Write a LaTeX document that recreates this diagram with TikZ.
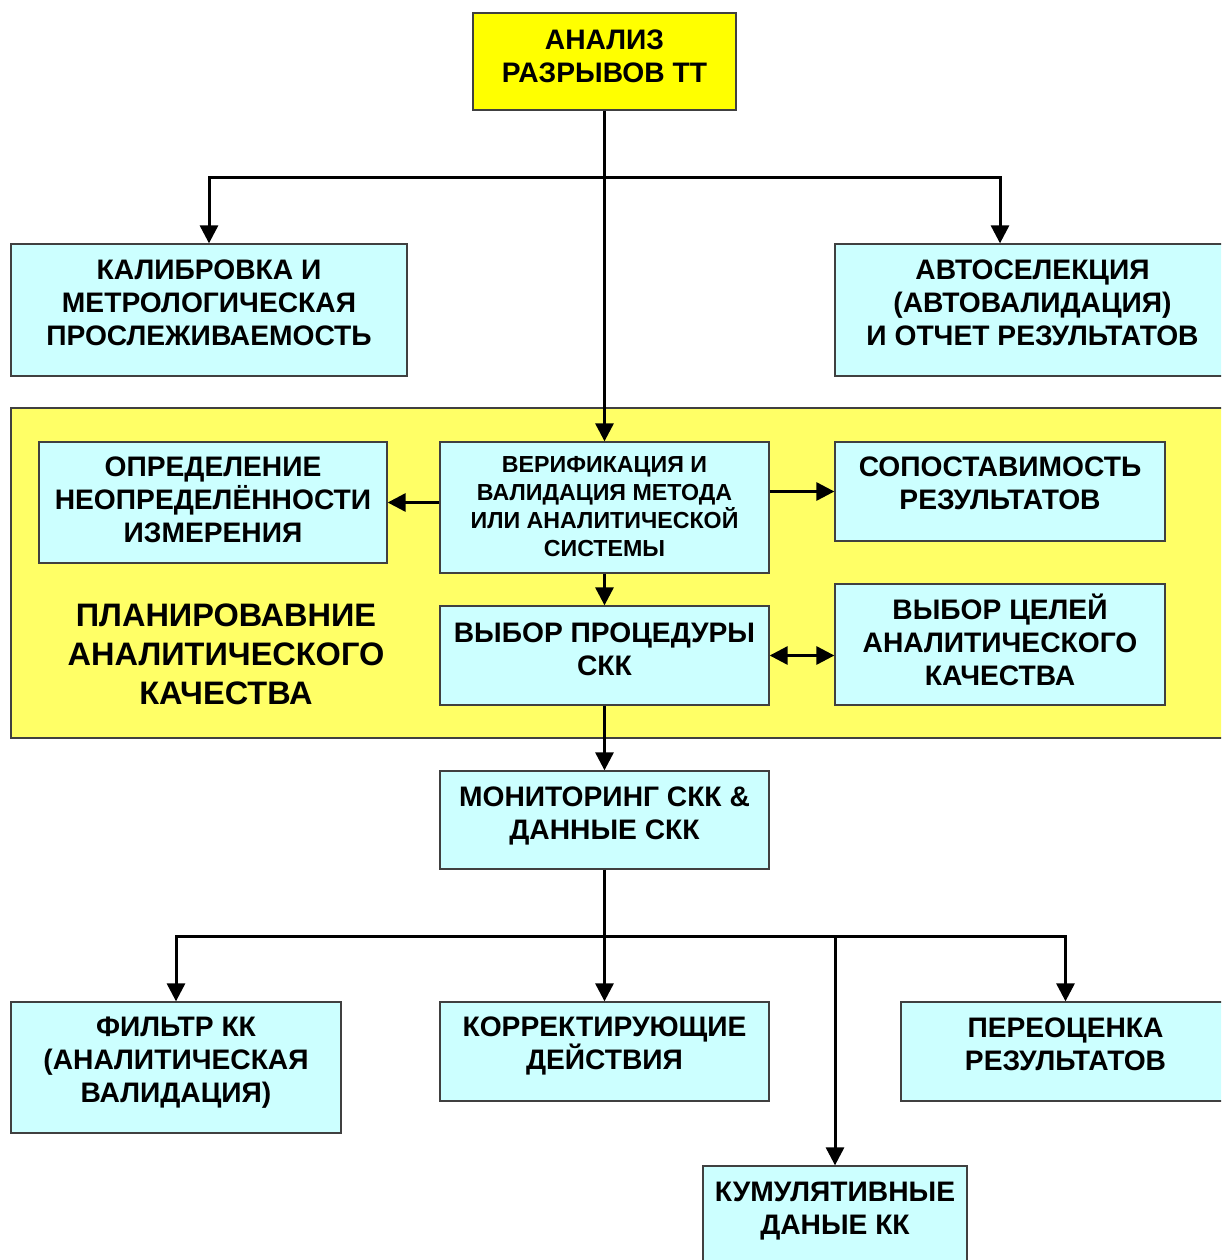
\documentclass[tikz,border=0pt]{standalone}
\usepackage{fontspec}
\setmainfont{Liberation Sans}
\usetikzlibrary{arrows.meta}

\definecolor{boxcyan}{HTML}{CCFFFF}
\definecolor{titleyellow}{HTML}{FFFF00}
\definecolor{bandyellow}{HTML}{FFFF66}
\definecolor{edgegray}{HTML}{404040}

\tikzset{
  box/.style={draw=edgegray, line width=1.3pt, fill=boxcyan, rectangle, inner sep=0pt},
  txt/.style={align=center, inner sep=0pt, font=\bfseries\fontsize{28.2}{33}\selectfont},
  smalltxt/.style={align=center, inner sep=0pt, font=\bfseries\fontsize{23.2}{28}\selectfont},
  bigtxt/.style={align=center, inner sep=0pt, font=\bfseries\fontsize{32.5}{39}\selectfont},
  tip/.tip={Triangle[length=18pt,width=18pt]},
  conn/.style={line width=3pt, -tip},
  dconn/.style={line width=3pt, tip-tip},
}

\begin{document}
\begin{tikzpicture}[x=1pt, y=-1pt]
  \useasboundingbox (0,0) rectangle (1221,1260);
  \fill[white] (0,0) rectangle (1221,1260);
  \clip (0,0) rectangle (1221,1260);

  % planning band
  \node[draw=edgegray, line width=1.3pt, fill=bandyellow, inner sep=0pt,
        minimum width=1240pt, minimum height=330pt] (band) at (631,573) {};
  \node[bigtxt] (bandlabel) at (226,654) {ПЛАНИРОВАВНИЕ\\АНАЛИТИЧЕСКОГО\\КАЧЕСТВА};

  % boxes
  \node[box, fill=titleyellow, minimum width=263pt, minimum height=97pt] (top) at (604.5,61.5) {};
  \node[txt] (top-t) at (604.5,56) {АНАЛИЗ\\РАЗРЫВОВ ТТ};

  \node[box, minimum width=396pt, minimum height=132pt] (kal) at (209,310) {};
  \node[txt] (kal-t) at (209,303) {КАЛИБРОВКА И\\МЕТРОЛОГИЧЕСКАЯ\\ПРОСЛЕЖИВАЕМОСТЬ};

  \node[box, minimum width=395pt, minimum height=132pt] (auto) at (1032.5,310) {};
  \node[txt] (auto-t) at (1032.5,303) {АВТОСЕЛЕКЦИЯ\\(АВТОВАЛИДАЦИЯ)\\И ОТЧЕТ РЕЗУЛЬТАТОВ};

  \node[box, minimum width=348pt, minimum height=121pt] (opr) at (213,502.5) {};
  \node[txt] (opr-t) at (213,500) {ОПРЕДЕЛЕНИЕ\\НЕОПРЕДЕЛЁННОСТИ\\ИЗМЕРЕНИЯ};

  \node[box, minimum width=329pt, minimum height=131pt] (ver) at (604.5,507.5) {};
  \node[smalltxt] (ver-t) at (604.5,507) {ВЕРИФИКАЦИЯ И\\ВАЛИДАЦИЯ МЕТОДА\\ИЛИ АНАЛИТИЧЕСКОЙ\\СИСТЕМЫ};

  \node[box, minimum width=330pt, minimum height=99pt] (sop) at (1000,491.5) {};
  \node[txt] (sop-t) at (1000,483.5) {СОПОСТАВИМОСТЬ\\РЕЗУЛЬТАТОВ};

  \node[box, minimum width=329pt, minimum height=99pt] (vyp) at (604.5,655.5) {};
  \node[txt] (vyp-t) at (604.5,649) {ВЫБОР ПРОЦЕДУРЫ\\СКК};

  \node[box, minimum width=330pt, minimum height=121pt] (vyc) at (1000,644.5) {};
  \node[txt] (vyc-t) at (1000,639.5) {ВЫБОР ЦЕЛЕЙ\\АНАЛИТИЧЕСКОГО\\КАЧЕСТВА};

  \node[box, minimum width=329pt, minimum height=98pt] (mon) at (604.5,820) {};
  \node[txt] (mon-t) at (604.5,816) {МОНИТОРИНГ СКК \&\\ДАННЫЕ СКК};

  \node[box, minimum width=330pt, minimum height=131pt] (fil) at (176,1067.5) {};
  \node[txt] (fil-t) at (176,1063) {ФИЛЬТР КК\\(АНАЛИТИЧЕСКАЯ\\ВАЛИДАЦИЯ)};

  \node[box, minimum width=329pt, minimum height=99pt] (kor) at (604.5,1051.5) {};
  \node[txt] (kor-t) at (604.5,1046) {КОРРЕКТИРУЮЩИЕ\\ДЕЙСТВИЯ};

  \node[box, minimum width=329pt, minimum height=99pt] (per) at (1065.5,1051.5) {};
  \node[txt] (per-t) at (1065.5,1044) {ПЕРЕОЦЕНКА\\РЕЗУЛЬТАТОВ};

  \node[box, minimum width=264pt, minimum height=104pt] (kum) at (835,1218) {};
  \node[txt] (kum-t) at (835,1211) {КУМУЛЯТИВНЫЕ\\ДАНЫЕ КК};

  % connectors
  \coordinate (j1) at (604.5,178);
  \coordinate (j2) at (604.5,936);
  \draw[conn] (top.south) -- (ver.north);
  \draw[conn] (j1) -| (kal.north);
  \draw[conn] (j1) -| (auto.north -| sop.north);
  \draw[conn] (ver.west |- opr.east) -- (opr.east);
  \draw[conn] (ver.east |- sop.west) -- (sop.west);
  \draw[conn] (ver.south) -- (vyp.north);
  \draw[dconn] (vyp.east) -- (vyc.west |- vyp.east);
  \draw[conn] (vyp.south) -- (mon.north);
  \draw[conn] (mon.south) -- (kor.north);
  \draw[conn] (j2) -| (fil.north);
  \draw[conn] (j2) -| (per.north);
  \draw[conn] (j2 -| kum.north) -- (kum.north);
\end{tikzpicture}
\end{document}
